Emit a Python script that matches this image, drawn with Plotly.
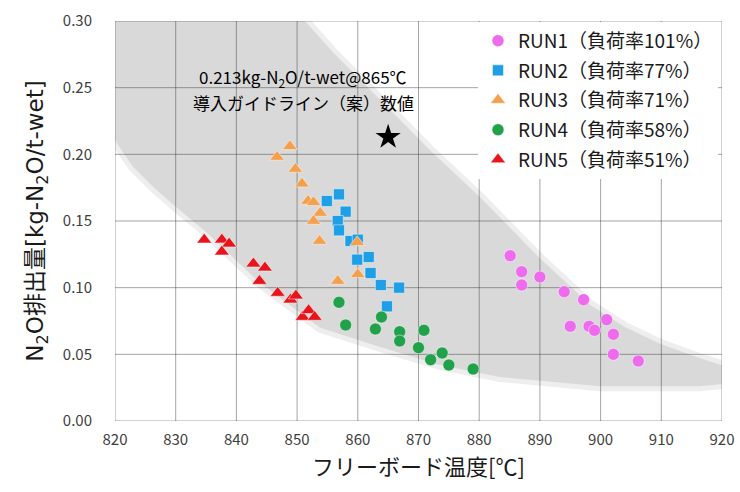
import plotly.graph_objects as go

FONT = "Noto Sans CJK JP"
WIDE_FONT = "DejaVu Sans, Noto Sans CJK JP"

# RUN1 (load factor 101%)
run1_x = [885.1, 887.0, 887.0, 890.0, 894.0, 897.2, 895.0, 898.1, 899.0, 901.0, 902.1, 902.1, 906.2]
run1_y = [0.124, 0.112, 0.102, 0.108, 0.097, 0.091, 0.071, 0.071, 0.068, 0.076, 0.065, 0.050, 0.045]

# RUN2 (load factor 77%)
run2_x = [854.9, 856.9, 858.0, 856.7, 856.9, 858.8, 860.0, 859.9, 861.8, 862.1, 863.8, 866.8, 864.8]
run2_y = [0.165, 0.170, 0.157, 0.150, 0.143, 0.135, 0.136, 0.121, 0.123, 0.111, 0.102, 0.100, 0.086]

# RUN3 (load factor 71%)
run3_x = [846.7, 848.8, 849.7, 850.8, 851.8, 852.7, 853.8, 852.7, 853.7, 859.9, 856.7, 860.0]
run3_y = [0.198, 0.206, 0.189, 0.178, 0.165, 0.164, 0.156, 0.150, 0.135, 0.134, 0.105, 0.110]

# RUN4 (load factor 58%)
run4_x = [856.9, 858.0, 863.9, 862.9, 866.9, 866.9, 870.9, 870.0, 873.9, 872.0, 875.0, 879.0]
run4_y = [0.089, 0.072, 0.078, 0.069, 0.067, 0.060, 0.068, 0.055, 0.051, 0.046, 0.042, 0.039]

# RUN5 (load factor 51%)
run5_x = [834.7, 837.6, 838.8, 837.6, 842.8, 844.7, 843.8, 846.8, 848.9, 849.8, 850.9, 851.9, 852.9]
run5_y = [0.136, 0.136, 0.133, 0.127, 0.118, 0.115, 0.105, 0.096, 0.091, 0.094, 0.078, 0.083, 0.078]

# Guideline value
guide_x = [865]
guide_y = [0.213]

# Shaded trend band (upper edge left->right, lower edge right->left)
band_upper_x = [820.0, 851.3, 856.2, 863.7, 871.9, 880.1, 890.0, 898.3, 904.0, 909.8, 916.4, 920.5, 921.2]
band_upper_y = [0.300, 0.300, 0.275, 0.241, 0.203, 0.168, 0.122, 0.087, 0.0705, 0.058, 0.047, 0.041, 0.035]
band_lower_x = [920.5, 916.4, 899.9, 883.4, 873.5, 863.7, 853.8, 843.9, 835.2, 830.2, 826.3, 823.0, 820.5, 820.0]
band_lower_y = [0.028, 0.026, 0.026, 0.033, 0.042, 0.0555, 0.070, 0.1035, 0.141, 0.160, 0.1755, 0.1905, 0.207, 0.211]

x_range = [820, 920]
y_range = [0.0, 0.30]
x_ticks = [820, 830, 840, 850, 860, 870, 880, 890, 900, 910, 920]
y_ticks = [0.00, 0.05, 0.10, 0.15, 0.20, 0.25, 0.30]

series = [
    ("RUN1（負荷率101%）", run1_x, run1_y, "circle", "#EE6BEE", 12),
    ("RUN2（負荷率77%）", run2_x, run2_y, "square", "#1E9FE6", 11),
    ("RUN3（負荷率71%）", run3_x, run3_y, "triangle-up", "#F4A04C", 13),
    ("RUN4（負荷率58%）", run4_x, run4_y, "circle", "#21A24A", 12),
    ("RUN5（負荷率51%）", run5_x, run5_y, "triangle-up", "#E8141C", 13),
]

fig = go.Figure()

for i, (name, xs, ys, sym, col, sz) in enumerate(series):
    fig.add_trace(go.Scatter(
        x=xs, y=ys, mode="markers", name=name, legendgroup=f"g{i}",
        marker=dict(symbol=sym, color=col, size=sz,
                    line=dict(color="rgba(255,255,255,0.6)", width=0.8)),
    ))

fig.add_trace(go.Scatter(
    x=guide_x, y=guide_y, mode="markers", showlegend=False,
    marker=dict(symbol="star", color="black", size=19, line=dict(width=0)),
))

# band outline path built from the edge arrays
pts = list(zip(band_upper_x, band_upper_y)) + list(zip(band_lower_x, band_lower_y))
path = "M " + " L ".join(f"{x},{y}" for x, y in pts) + " Z"

# soft rim, then the solid band body
fig.add_shape(type="path", path=path, xref="x", yref="y", layer="below",
              fillcolor="rgba(0,0,0,0)",
              line=dict(color="rgba(217,217,217,0.45)", width=10))
fig.add_shape(type="path", path=path, xref="x", yref="y", layer="below",
              fillcolor="#d9d9d9", line=dict(width=0))

# grid drawn over the band: translucent dark lines read darker on the gray
grid_line = dict(color="rgba(40,40,40,0.42)", width=1)
for v in x_ticks:
    fig.add_shape(type="line", xref="x", yref="y", x0=v, x1=v,
                  y0=y_range[0], y1=y_range[1], layer="below", line=grid_line)
for v in y_ticks:
    fig.add_shape(type="line", xref="x", yref="y", x0=x_range[0], x1=x_range[1],
                  y0=v, y1=v, layer="below", line=grid_line)

fig.add_annotation(x=851.0, y=0.258, xref="x", yref="y", showarrow=False,
                   text="0.213kg-N<sub>2</sub>O/t-wet@865℃",
                   font=dict(family=FONT, size=17, color="black"))
fig.add_annotation(x=851.0, y=0.2386, xref="x", yref="y", showarrow=False,
                   text="導入ガイドライン（案）数値",
                   font=dict(family=FONT, size=17, color="black"))

fig.update_xaxes(
    range=x_range, tickvals=x_ticks, ticktext=[str(v) for v in x_ticks],
    showgrid=False, showline=False, zeroline=False,
    ticks="", ticklabelstandoff=8,
    tickfont=dict(family=FONT, size=15, color="#404040"),
    title=dict(text="フリーボード温度[℃]", standoff=10,
               font=dict(family=FONT, size=22, color="#1a1a1a")),
)
fig.update_yaxes(
    range=y_range, tickvals=y_ticks, ticktext=[f"{v:.2f}" for v in y_ticks],
    showgrid=False, showline=False, zeroline=False,
    ticks="", ticklabelstandoff=22,
    tickfont=dict(family=FONT, size=15, color="#404040"),
    title=dict(text="N<sub>2</sub>O排出量[kg-N<sub>2</sub>O/t-wet]", standoff=12,
               font=dict(family=WIDE_FONT, size=23, color="#1a1a1a")),
)

fig.update_layout(
    width=740, height=492,
    margin=dict(l=115, r=18, t=21, b=71, autoexpand=False),
    paper_bgcolor="white", plot_bgcolor="white",
    font=dict(family=FONT),
    legend=dict(
        x=0.598, y=0.998, xanchor="left", yanchor="top",
        bgcolor="white", borderwidth=0,
        font=dict(family=FONT, size=19, color="#1a1a1a"),
        tracegroupgap=2, itemsizing="trace",
    ),
)

fig.write_html("out.html")
